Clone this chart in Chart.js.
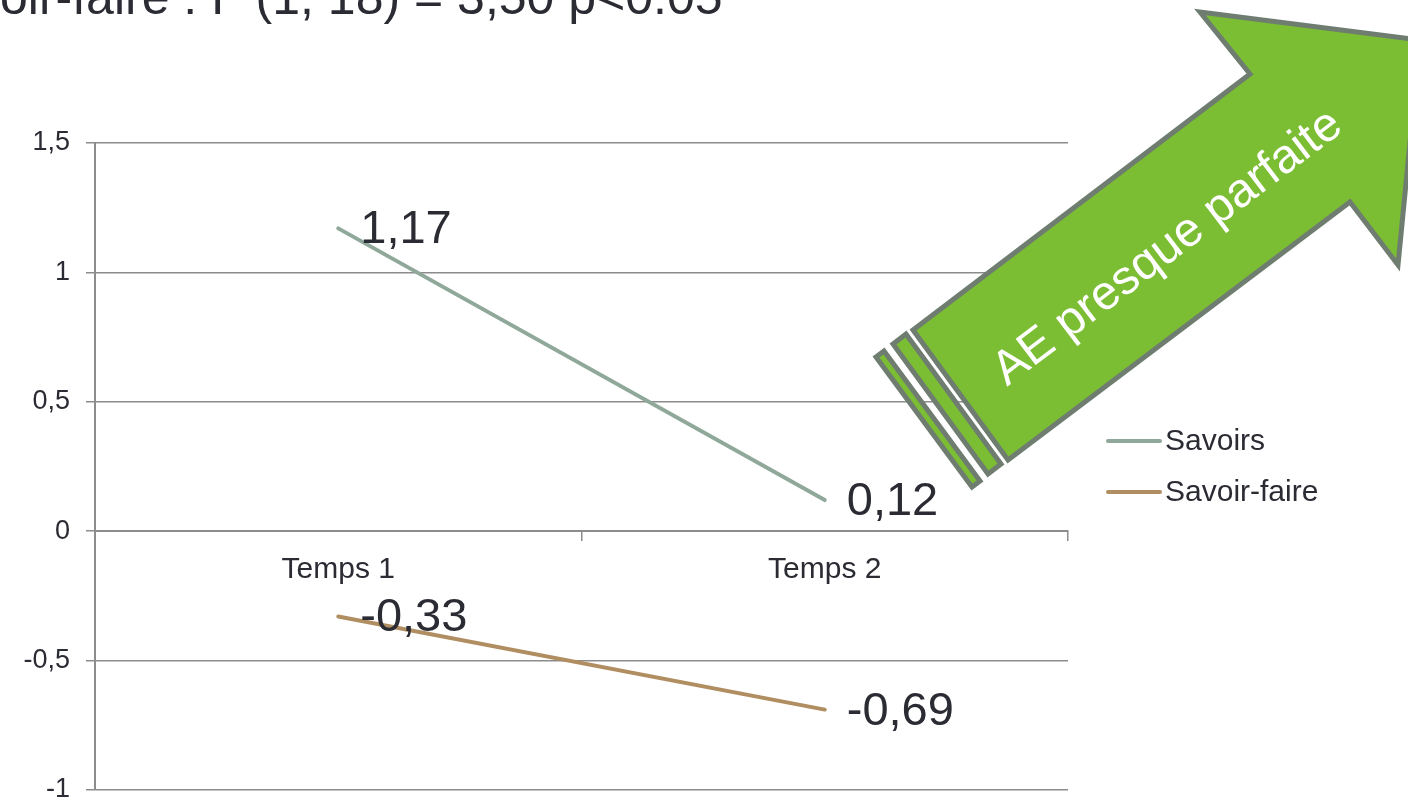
<!DOCTYPE html>
<html>
<head>
<meta charset="utf-8">
<script src="https://cdn.jsdelivr.net/npm/chart.js@4"></script>
<style>
  body { margin: 0; background: #fff; overflow: hidden; }
  #wrap { position: relative; width: 1408px; height: 802px; overflow: hidden; }
</style>
</head>
<body>
<div id="wrap"><canvas id="effectChart" width="1408" height="822"></canvas></div>
<script>
const categories = ["Temps 1", "Temps 2"];
const savoirs = [1.17, 0.12];
const savoirFaire = [-0.33, -0.69];
const seriesNames = ["Savoirs", "Savoir-faire"];
const titleText = "Savoir-faire : F (1, 18) = 3,50 p<0.05";
const arrowText = "AE presque parfaite";

const textColor = "#2a2b33";
const gridColor = "#8c8c8c";
const fontFamily = "'Liberation Sans', Arial, sans-serif";
const fmt = (v) => String(v).replace(".", ",");

// values next to each point
const valueLabels = {
  id: "valueLabels",
  afterDatasetsDraw(chart) {
    const ctx = chart.ctx;
    ctx.save();
    ctx.font = "47px " + fontFamily;
    ctx.fillStyle = textColor;
    ctx.textAlign = "left";
    ctx.textBaseline = "middle";
    chart.data.datasets.forEach((ds, i) => {
      chart.getDatasetMeta(i).data.forEach((pt, j) => {
        ctx.fillText(fmt(ds.data[j]), pt.x + 22, pt.y + 2);
      });
    });
    ctx.restore();
  }
};

// title (cut off at the top/left like the slide), legend and the arrow shape
const decorations = {
  id: "decorations",
  afterDraw(chart) {
    const ctx = chart.ctx;
    const area = chart.chartArea;
    ctx.save();

    ctx.font = "50px " + fontFamily;
    ctx.fillStyle = textColor;
    ctx.textBaseline = "alphabetic";
    const cut = ctx.measureText("Sav").width;
    ctx.fillText(titleText, -cut, 14);

    // legend
    ctx.font = "30px " + fontFamily;
    ctx.textBaseline = "middle";
    chart.data.datasets.forEach((ds, i) => {
      const y = 441 + i * 51;
      const x = area.right + 40;
      ctx.strokeStyle = ds.borderColor;
      ctx.lineWidth = 4;
      ctx.lineCap = "round";
      ctx.beginPath();
      ctx.moveTo(x, y);
      ctx.lineTo(x + 52, y);
      ctx.stroke();
      ctx.fillStyle = textColor;
      ctx.fillText(ds.label, x + 57, y + 1);
    });

    // arrow
    ctx.lineJoin = "miter";
    ctx.lineWidth = 5;
    ctx.strokeStyle = "#6f7d71";
    ctx.fillStyle = "#7bbd33";
    const poly = (pts) => {
      ctx.beginPath();
      ctx.moveTo(pts[0][0], pts[0][1]);
      pts.slice(1).forEach(p => ctx.lineTo(p[0], p[1]));
      ctx.closePath();
      ctx.fill();
      ctx.stroke();
    };
    poly([[913, 330], [1250, 74], [1200, 12], [1420, 40], [1398, 265], [1350, 202], [1008, 460]]);
    poly([[893, 344], [906, 334], [1001, 464], [988, 474]]);
    poly([[876, 357], [884, 351], [980, 481], [972, 487]]);

    ctx.translate(1168, 248);
    ctx.rotate(-Math.atan2(256, 337));
    ctx.font = "48px " + fontFamily;
    ctx.fillStyle = "#ffffff";
    ctx.textAlign = "center";
    ctx.textBaseline = "middle";
    ctx.fillText(arrowText, 0, 0);

    ctx.restore();
  }
};

new Chart(document.getElementById("effectChart"), {
  type: "line",
  data: {
    labels: categories,
    datasets: [
      {
        label: seriesNames[0],
        data: savoirs,
        borderColor: "#8fa89a",
        borderWidth: 4,
        borderCapStyle: "round",
        pointRadius: 0,
        tension: 0,
      },
      {
        label: seriesNames[1],
        data: savoirFaire,
        borderColor: "#b08e62",
        borderWidth: 4,
        borderCapStyle: "round",
        pointRadius: 0,
        tension: 0,
      }
    ]
  },
  options: {
    responsive: false,
    animation: false,
    devicePixelRatio: 1,
    layout: { padding: { top: 143, bottom: 0, left: 20, right: 340 } },
    plugins: {
      legend: { display: false },
      tooltip: { enabled: false },
      title: { display: false },
    },
    scales: {
      x: {
        position: { y: 0 },
        offset: true,
        grid: {
          offset: true,
          drawOnChartArea: false,
          drawTicks: true,
          tickLength: 9,
          color: gridColor,
          lineWidth: 1.5,
        },
        border: { color: gridColor, width: 2 },
        ticks: {
          color: textColor,
          font: { size: 30, family: fontFamily },
          padding: 12,
        },
      },
      y: {
        min: -1,
        max: 1.5,
        afterFit: (scale) => { scale.width = 75; },
        ticks: {
          stepSize: 0.5,
          color: textColor,
          font: { size: 27, family: fontFamily },
          padding: 16,
          callback: (v) => fmt(v),
        },
        grid: { color: gridColor, lineWidth: 1.5, tickLength: 9 },
        border: { color: gridColor, width: 2 },
      }
    }
  },
  plugins: [valueLabels, decorations]
});
</script>
</body>
</html>
